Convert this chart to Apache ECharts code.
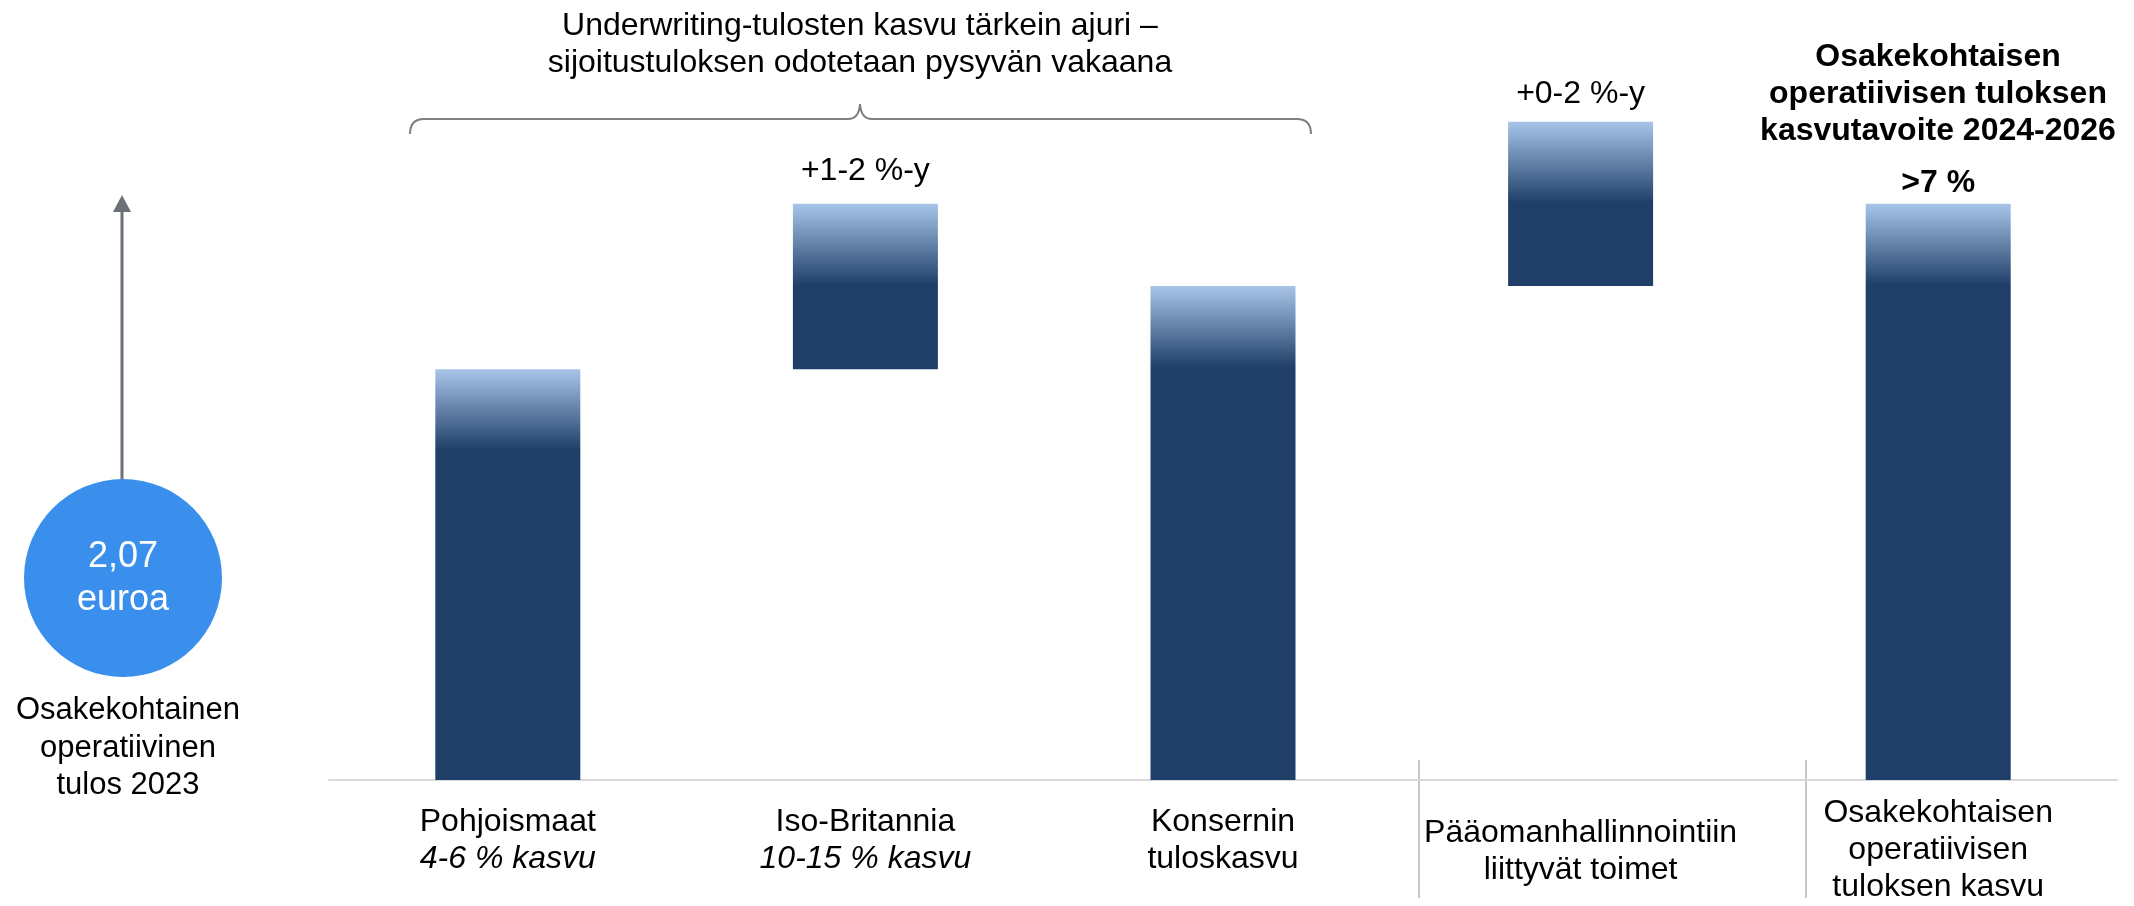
<!DOCTYPE html>
<html>
<head>
<meta charset="utf-8">
<script src="https://cdn.jsdelivr.net/npm/echarts@6/dist/echarts.min.js"></script>
<style>
html,body{margin:0;padding:0;background:#fff;}
#chart{width:2134px;height:906px;}
</style>
</head>
<body>
<div id="chart"></div>
<script>
// ---- data ----
const categories = ['Pohjoismaat', 'Iso-Britannia', 'Konsernin\ntuloskasvu', 'Pääomanhallinnointiin\nliittyvät toimet', 'Osakekohtaisen\noperatiivisen\ntuloksen kasvu'];
const subLabels = ['4-6 % kasvu', '10-15 % kasvu', '', '', ''];
const baseValues = [0, 4.15, 0, 4.99, 0];
const barValues = [4.15, 1.67, 4.99, 1.66, 5.82];
const barLabels = ['', '+1-2 %-y', '', '+0-2 %-y', '>7 %'];
const startValue = '2,07';
const startUnit = 'euroa';
const startCaption = 'Osakekohtainen\noperatiivinen\ntulos 2023';
const headerText = 'Underwriting-tulosten kasvu tärkein ajuri –\nsijoitustuloksen odotetaan pysyvän vakaana';
const targetText = 'Osakekohtaisen\noperatiivisen tuloksen\nkasvutavoite 2024-2026';

// ---- style ----
const FONT = "'Liberation Sans', Arial, sans-serif";
const DARK = '#1f3f68';
const LIGHT = '#a8c5e9';
const GRAD_UNITS = 0.82;
const labelGap = [0, 17, 0, 11, 5];
const labelBold = [false, false, false, false, true];
const axisPad = [9, 9, 9, 20, 0];

const chart = echarts.init(document.getElementById('chart'), null, {renderer: 'canvas'});

const xData = categories.map((c, i) => ({
  value: c,
  textStyle: {padding: [axisPad[i], 0, 0, 0]}
}));

const valueData = barValues.map((v, i) => {
  const off = Math.min(1, GRAD_UNITS / v);
  return {
    value: v,
    itemStyle: {
      color: {
        type: 'linear', x: 0, y: 0, x2: 0, y2: 1,
        colorStops: [
          {offset: 0, color: LIGHT},
          {offset: off, color: DARK},
          {offset: 1, color: DARK}
        ]
      }
    },
    label: {
      show: !!barLabels[i],
      position: 'top',
      distance: labelGap[i],
      formatter: barLabels[i] || '',
      fontSize: 32,
      lineHeight: 32,
      fontFamily: FONT,
      fontWeight: labelBold[i] ? 'bold' : 'normal',
      color: '#000'
    }
  };
});

const braceStyle = {stroke: '#7f7f7f', lineWidth: 2, fill: null};

const option = {
  animation: false,
  backgroundColor: '#fff',
  grid: {left: 329, right: 17, top: 87, bottom: 119},
  xAxis: {
    type: 'category',
    data: xData,
    axisLine: {show: true, lineStyle: {color: '#d9d9d9', width: 2}},
    axisTick: {show: false},
    axisLabel: {
      interval: 0,
      margin: 15,
      verticalAlign: 'top',
      color: '#000',
      fontFamily: FONT,
      fontSize: 32,
      lineHeight: 37,
      formatter: function (val, idx) {
        const main = String(val).split('\n').map(s => '{n|' + s + '}').join('\n');
        return subLabels[idx] ? main + '\n{i|' + subLabels[idx] + '}' : main;
      },
      rich: {
        n: {fontSize: 32, lineHeight: 37, fontFamily: FONT, color: '#000'},
        i: {fontSize: 32, lineHeight: 37, fontFamily: FONT, fontStyle: 'italic', color: '#000'}
      }
    }
  },
  yAxis: {
    type: 'value', min: 0, max: 7, show: false,
    splitLine: {show: false}
  },
  series: [
    {
      name: 'base', type: 'bar', stack: 'w', barWidth: 145,
      itemStyle: {color: 'rgba(0,0,0,0)'},
      emphasis: {disabled: true},
      data: baseValues
    },
    {
      name: 'value', type: 'bar', stack: 'w', barWidth: 145,
      emphasis: {disabled: true},
      data: valueData
    }
  ],
  graphic: [
    // arrow
    {type: 'line', shape: {x1: 122, y1: 480, x2: 122, y2: 208}, style: {stroke: '#6d6f79', lineWidth: 3}},
    {type: 'polygon', shape: {points: [[122, 195], [113, 212], [131, 212]]}, style: {fill: '#6d6f79'}},
    // circle
    {type: 'circle', shape: {cx: 123, cy: 578, r: 99}, style: {fill: '#3a8fed'}},
    {type: 'text', x: 123, y: 579, style: {text: startValue + '\n' + startUnit, fill: '#fff', fontSize: 36, fontFamily: FONT, lineHeight: 43, align: 'center', verticalAlign: 'middle'}},
    {type: 'text', x: 128, y: 748, style: {text: startCaption, fill: '#000', fontSize: 31, fontFamily: FONT, lineHeight: 37.5, align: 'center', verticalAlign: 'middle'}},
    // header
    {type: 'text', x: 860, y: 8, style: {text: headerText, fill: '#000', fontSize: 32, fontFamily: FONT, lineHeight: 37, align: 'center', verticalAlign: 'top'}},
    // brace
    {type: 'bezierCurve', shape: {x1: 410, y1: 134, x2: 424, y2: 119, cpx1: 410, cpy1: 119}, style: braceStyle},
    {type: 'line', shape: {x1: 424, y1: 119, x2: 848, y2: 119}, style: braceStyle},
    {type: 'bezierCurve', shape: {x1: 848, y1: 119, x2: 860, y2: 104, cpx1: 859, cpy1: 119}, style: braceStyle},
    {type: 'bezierCurve', shape: {x1: 860, y1: 104, x2: 872, y2: 119, cpx1: 861, cpy1: 119}, style: braceStyle},
    {type: 'line', shape: {x1: 872, y1: 119, x2: 1297, y2: 119}, style: braceStyle},
    {type: 'bezierCurve', shape: {x1: 1297, y1: 119, x2: 1311, y2: 134, cpx1: 1311, cpy1: 119}, style: braceStyle},
    // target header
    {type: 'text', x: 1938, y: 39, style: {text: targetText, fill: '#000', fontSize: 32, fontWeight: 'bold', fontFamily: FONT, lineHeight: 37, align: 'center', verticalAlign: 'top'}},
    // separators
    {type: 'line', shape: {x1: 1419, y1: 760, x2: 1419, y2: 898}, style: {stroke: '#c8c8c8', lineWidth: 2}},
    {type: 'line', shape: {x1: 1806, y1: 760, x2: 1806, y2: 898}, style: {stroke: '#c8c8c8', lineWidth: 2}}
  ]
};
chart.setOption(option);
</script>
</body>
</html>
